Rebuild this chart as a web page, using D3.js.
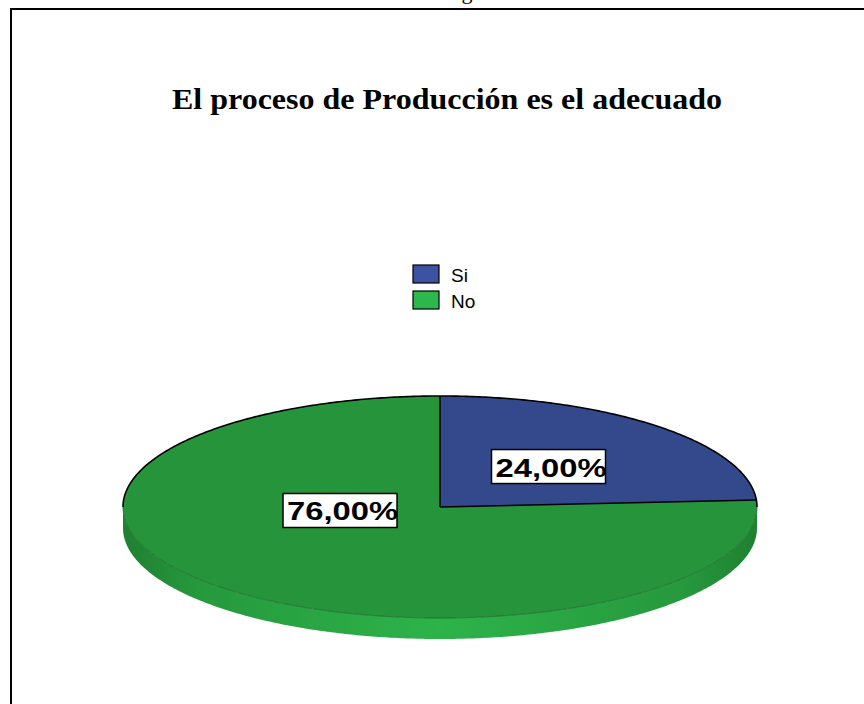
<!DOCTYPE html>
<html>
<head>
<meta charset="utf-8">
<script src="https://cdn.jsdelivr.net/npm/d3@7"></script>
<style>
  body { margin: 0; background: #fff; }
  svg { display: block; }
</style>
</head>
<body>
<svg id="chart" width="864" height="704"></svg>
<script>
// data
var categories = ["Si", "No"];
var values = [24, 76];
var labels = ["24,00%", "76,00%"];
var title = "El proceso de Producción es el adecuado";

var topColors = ["#33498c", "#26943a"];
var legendColors = ["#3d52a1", "#2eb84b"];

var width = 864, height = 704;
var cx = 440, cy = 507, rx = 317, ry = 111, depth = 21;

var svg = d3.select("#chart");

// frame, open on the right and bottom
svg.append("path")
  .attr("d", "M11," + height + "V9H" + width)
  .attr("fill", "none").attr("stroke", "#000").attr("stroke-width", 2);

// bit of caption from the page above (cut off in the original too)
svg.append("text")
  .attr("x", 467).attr("y", -1)
  .attr("text-anchor", "middle")
  .style("font-family", "'Liberation Serif', 'Times New Roman', serif")
  .style("font-size", "22px")
  .text("g");

svg.append("text")
  .attr("x", 172).attr("y", 109)
  .attr("textLength", 550).attr("lengthAdjust", "spacingAndGlyphs")
  .style("font-family", "'Liberation Serif', 'Times New Roman', serif")
  .style("font-size", "29px").style("font-weight", "bold")
  .text(title);

// legend
var legend = svg.append("g").attr("transform", "translate(413,265)");
var item = legend.selectAll("g").data(categories).enter().append("g")
  .attr("transform", function(d, i) { return "translate(0," + i * 26 + ")"; });
item.append("rect")
  .attr("width", 26).attr("height", 18)
  .attr("fill", function(d, i) { return legendColors[i]; })
  .attr("stroke", "#000").attr("stroke-width", 1.2);
item.append("text")
  .attr("x", 38).attr("y", 17)
  .style("font-family", "'Liberation Sans', Arial, sans-serif")
  .style("font-size", "19px")
  .text(function(d) { return d; });

// pie, projected onto an ellipse
var pie = d3.pie().sort(null).startAngle(0).endAngle(2 * Math.PI);
var arcs = pie(values);

function pt(a, r, dy) {
  return [cx + rx * r * Math.sin(a), cy - ry * r * Math.cos(a) + (dy || 0)];
}
function samples(a0, a1) {
  var n = Math.max(2, Math.ceil(Math.abs(a1 - a0) / 0.01));
  return d3.range(n + 1).map(function(k) { return a0 + (a1 - a0) * k / n; });
}
var line = d3.line();

var defs = svg.append("defs");
var grad = defs.append("linearGradient").attr("id", "sideGreen")
  .attr("gradientUnits", "userSpaceOnUse")
  .attr("x1", cx - rx).attr("x2", cx + rx).attr("y1", 0).attr("y2", 0);
[[0, "#1f8031"], [0.12, "#26993d"], [0.5, "#2db34a"], [0.88, "#26993d"], [1, "#1f8031"]]
  .forEach(function(s) { grad.append("stop").attr("offset", s[0]).attr("stop-color", s[1]); });

// front side wall
arcs.forEach(function(d, i) {
  var a0 = Math.max(d.startAngle, Math.PI / 2), a1 = Math.min(d.endAngle, 3 * Math.PI / 2);
  if (a1 <= a0) return;
  var topEdge = samples(a0, a1).map(function(a) { return pt(a, 1); });
  var botEdge = samples(a1, a0).map(function(a) { return pt(a, 1, depth); });
  svg.append("path")
    .attr("d", line(topEdge.concat(botEdge)) + "Z")
    .attr("fill", i === 1 ? "url(#sideGreen)" : d3.color(topColors[i]).brighter(0.3));
});

// top faces
svg.selectAll(".slice").data(arcs).enter().append("path")
  .attr("class", "slice")
  .attr("d", function(d) {
    var p = [[cx, cy]].concat(samples(d.startAngle, d.endAngle).map(function(a) { return pt(a, 1); }));
    return line(p) + "Z";
  })
  .attr("fill", function(d, i) { return topColors[i]; });

// outlines: dark on the front rim, black on the back rim and the cuts
svg.append("path")
  .attr("d", line(samples(Math.PI / 2, 3 * Math.PI / 2).map(function(a) { return pt(a, 1); })))
  .attr("fill", "none").attr("stroke", "#1a6a2a").attr("stroke-width", 0.8);
svg.append("path")
  .attr("d", line(samples(-Math.PI / 2, Math.PI / 2).map(function(a) { return pt(a, 1); })))
  .attr("fill", "none").attr("stroke", "#000").attr("stroke-width", 1.6);
arcs.forEach(function(d) {
  svg.append("path")
    .attr("d", line([[cx, cy], pt(d.startAngle, 1)]))
    .attr("stroke", "#000").attr("stroke-width", 1.6);
});

// value labels; SPSS puts the big slice's label left of centre
var labelSpot = [{ angle: null, r: 0.5 }, { angle: 264.3, r: 0.317 }];
arcs.forEach(function(d, i) {
  var s = labelSpot[i];
  var a = s.angle === null ? (d.startAngle + d.endAngle) / 2 : s.angle * Math.PI / 180;
  var c = pt(a, s.r);
  var g = svg.append("g").attr("transform", "translate(" + (c[0] - 57) + "," + (c[1] - 17) + ")");
  g.append("rect").attr("width", 114).attr("height", 34)
    .attr("fill", "#fff").attr("stroke", "#000").attr("stroke-width", 1.5);
  g.append("text")
    .attr("x", 4).attr("y", 27)
    .attr("textLength", 111).attr("lengthAdjust", "spacingAndGlyphs")
    .style("font-family", "'Liberation Sans', Arial, sans-serif")
    .style("font-size", "26px").style("font-weight", "bold")
    .text(labels[i]);
});
</script>
</body>
</html>
